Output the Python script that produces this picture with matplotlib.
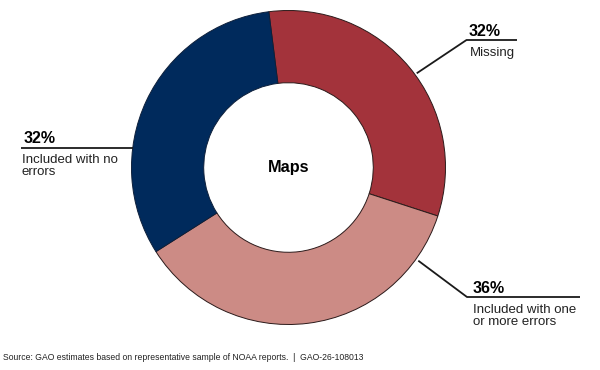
import matplotlib
matplotlib.use("Agg")
import matplotlib.pyplot as plt

plt.rcParams["font.family"] = ["Liberation Sans", "DejaVu Sans"]

# data
labels = ["Missing", "Included with one\nor more errors", "Included with no\nerrors"]
values = [32, 36, 32]
pct_text = ["32%", "36%", "32%"]
colors = ["#a3333b", "#cc8b85", "#002a5c"]
center_label = "Maps"
source = "Source: GAO estimates based on representative sample of NOAA reports.  |  GAO-26-108013"

W, H = 600, 370
fig = plt.figure(figsize=(W / 100, H / 100), dpi=100)
ax = fig.add_axes([0, 0, 1, 1])

cx, cy, R = 288.5, H - 167.5, 157
wedges, _ = ax.pie(values, colors=colors, startangle=97.2, counterclock=False,
                   center=(cx, cy), radius=R, frame=True,
                   wedgeprops=dict(width=R * 0.46, edgecolor="#2b1a1a", linewidth=0.7))
wedges[2].set_edgecolor("#0d1f3a")
ax.set_xlim(0, W)
ax.set_ylim(0, H)
ax.set_aspect("equal")
ax.axis("off")

ax.text(cx, cy, center_label, ha="center", va="center", fontsize=11.7,
        fontweight="bold", color="black")

line_kw = dict(color="#1a1a1a", lw=1.3, solid_capstyle="butt")
# Missing (top right)
ax.plot([416.7, 466.5, 517], [H - 73.3, H - 40, H - 40], **line_kw)
ax.text(469, H - 36, pct_text[0], fontsize=11.5, fontweight="bold", va="baseline")
ax.text(470, H - 47, labels[0], fontsize=9.5, va="top", color="#222222")
# one or more errors (bottom right)
ax.plot([418.3, 467, 580], [H - 260.7, H - 297, H - 297], **line_kw)
ax.text(473, H - 293, pct_text[1], fontsize=11.5, fontweight="bold", va="baseline")
ax.text(473, H - 304, labels[1], fontsize=9.5, va="top", color="#222222",
        linespacing=1.0)
# no errors (left)
ax.plot([21, 133], [H - 147.7, H - 147.7], **line_kw)
ax.text(24, H - 143, pct_text[2], fontsize=11.5, fontweight="bold", va="baseline")
ax.text(22, H - 154, labels[2], fontsize=9.5, va="top", color="#222222",
        linespacing=1.0)

ax.text(3, H - 357, source, fontsize=6.25, va="center", color="#222222")

fig.savefig("out.png", dpi=100)
